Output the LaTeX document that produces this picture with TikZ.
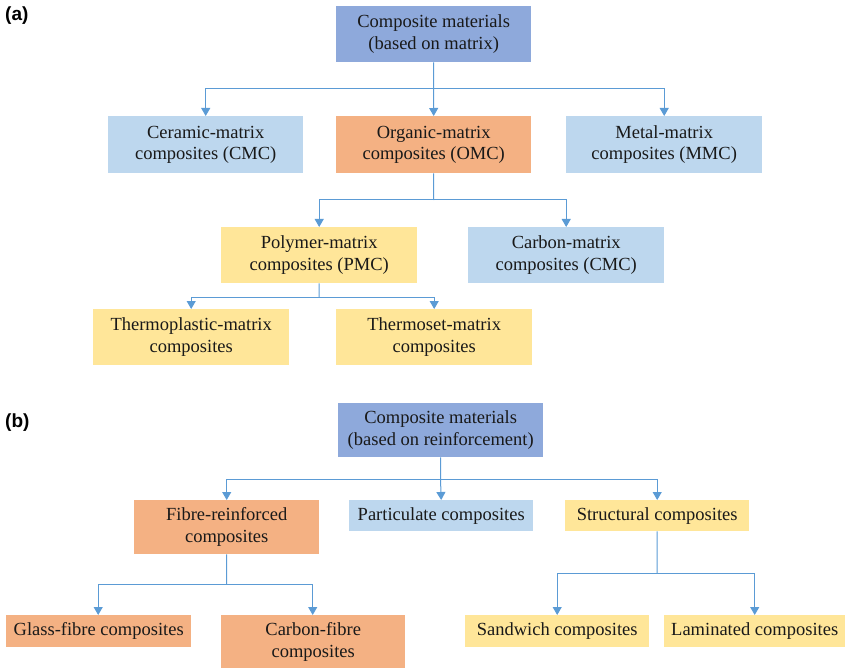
\documentclass[tikz,border=0pt]{standalone}
\usepackage{fontspec}
\setmainfont{Liberation Serif}
\newfontfamily\labfont{Liberation Sans}
\usetikzlibrary{arrows.meta}
\definecolor{topblue}{HTML}{8EA9DB}
\definecolor{lightblue}{HTML}{BDD7EE}
\definecolor{orangebox}{HTML}{F4B183}
\definecolor{yellowbox}{HTML}{FFE699}
\definecolor{arrowblue}{HTML}{5B9BD5}
\tikzset{
  cbox/.style={draw=none, align=center, inner sep=0pt, anchor=north west,
    font=\fontsize{18.5}{21.5}\selectfont, text=black!90},
  conn/.style={draw=arrowblue, line width=1pt},
  arr/.style={conn, -{Triangle[length=8pt,width=9pt]}},
  plabel/.style={anchor=north west, inner sep=0pt, font=\labfont\bfseries\fontsize{19}{22}\selectfont}
}
\newcommand{\bx}[7]{% name, x, y, w, h, color, text
  \node[cbox, fill=#6, minimum width=#4pt, minimum height=#5pt] (#1) at (#2,#3) {#7};}
\begin{document}
\begin{tikzpicture}[x=1pt,y=-1pt]
\useasboundingbox (0,0) rectangle (845,668);
% (a)
\node[plabel] (la) at (5,7) {(a)};
\bx{ta}{336}{6}{195}{56}{topblue}{Composite materials\\(based on matrix)}
\bx{cer}{108}{116}{195}{57}{lightblue}{Ceramic-matrix\\composites (CMC)}
\bx{org}{336}{116}{195}{57}{orangebox}{Organic-matrix\\composites (OMC)}
\bx{met}{566}{116}{196}{57}{lightblue}{Metal-matrix\\composites (MMC)}
\bx{pol}{221}{227}{196}{56}{yellowbox}{Polymer-matrix\\composites (PMC)}
\bx{car}{468}{227}{196}{56}{lightblue}{Carbon-matrix\\composites (CMC)}
\bx{thp}{93}{309}{196}{56}{yellowbox}{Thermoplastic-matrix\\composites}
\bx{ths}{336}{309}{196}{56}{yellowbox}{Thermoset-matrix\\composites}
\coordinate (ja) at (433.5,89);
\coordinate (jb) at (433.5,200);
\coordinate (jc) at (319,297);
\draw[conn] (ta.south) -- (ja);
\draw[arr] (ja) -| (cer.north);
\draw[arr] (ja) -- (org.north);
\draw[arr] (ja) -| (met.north);
\draw[conn] (org.south) -- (jb);
\draw[arr] (jb) -| (pol.north);
\draw[arr] (jb) -| (car.north);
\draw[conn] (pol.south) -- (jc);
\draw[arr] (jc) -| (thp.north);
\draw[arr] (jc) -| (ths.north);
% (b)
\node[plabel] (lb) at (5,414) {(b)};
\bx{tb}{338}{403}{205}{54}{topblue}{Composite materials\\(based on reinforcement)}
\bx{fib}{134}{500}{185}{54}{orangebox}{Fibre-reinforced\\composites}
\bx{par}{349}{500}{184}{31}{lightblue}{Particulate composites}
\bx{str}{565}{500}{184}{31}{yellowbox}{Structural composites}
\bx{gla}{6}{615}{185}{32}{orangebox}{Glass-fibre composites}
\bx{cfb}{221}{615}{184}{53}{orangebox}{Carbon-fibre\\composites}
\bx{san}{465}{615}{184}{32}{yellowbox}{Sandwich composites}
\bx{lam}{664}{615}{181}{32}{yellowbox}{Laminated composites}
\coordinate (jd) at (440.5,479);
\coordinate (je) at (226.5,584);
\coordinate (jf) at (657,573);
\draw[conn] (tb.south) -- (jd);
\draw[arr] (jd) -| (fib.north);
\draw[arr] (jd) -- (par.north);
\draw[arr] (jd) -| (str.north);
\draw[conn] (fib.south) -- (je);
\draw[arr] (je) -| ([xshift=-0.5pt]gla.north);
\draw[arr] (je) -| ([xshift=-0.5pt]cfb.north);
\draw[conn] (str.south) -- (jf);
\draw[arr] (jf) -| (san.north);
\draw[arr] (jf) -| (lam.north);
\end{tikzpicture}
\end{document}
